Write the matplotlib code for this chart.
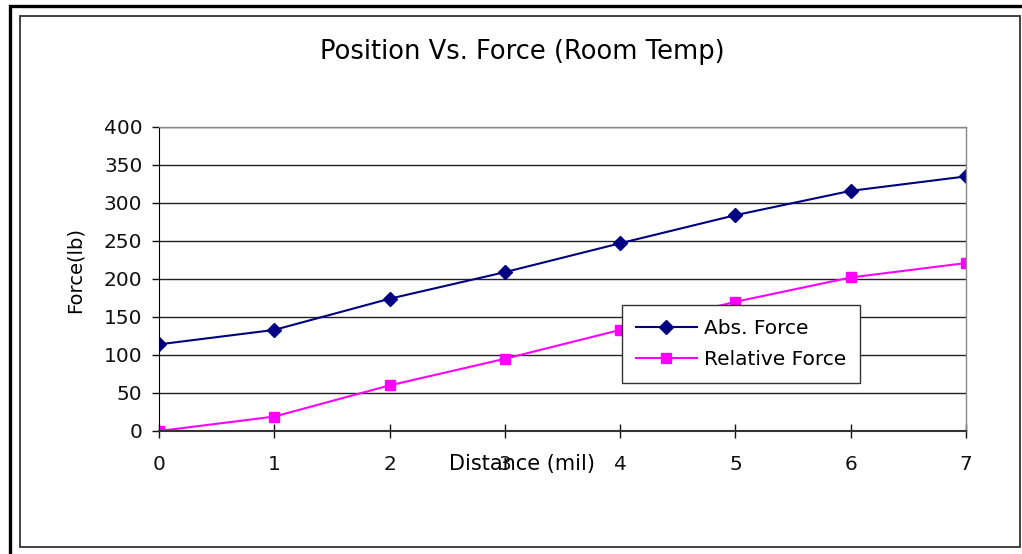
import matplotlib
matplotlib.use('Agg')
import matplotlib.pyplot as plt
from matplotlib.patches import Rectangle

# Данные: расстояние и сила
distance = [0, 1, 2, 3, 4, 5, 6, 7]
abs_force = [114, 133, 174, 209, 247, 284, 316, 335]
relative_force = [0, 19, 60, 95, 133, 170, 202, 221]
y_ticks = [0, 50, 100, 150, 200, 250, 300, 350, 400]

plt.rcParams['font.family'] = ['DejaVu Sans']

W, H = 1022, 554
fig = plt.figure(figsize=(W / 100, H / 100), dpi=100)

# Рамки вокруг всей диаграммы (в пикселях)
def px_rect(x0, y0, x1, y1, lw, color):
    r = Rectangle((x0 / W, 1 - y1 / H), (x1 - x0) / W, (y1 - y0) / H,
                  transform=fig.transFigure, fill=False, lw=lw, ec=color)
    fig.patches.append(r)

px_rect(9.5, 6, 1040, 580, 2.4, 'black')
px_rect(20, 15.5, 1019.5, 547, 1.3, '#333333')

ax = fig.add_axes([159 / W, 1 - 431 / H, (966 - 159) / W, (431 - 127) / H])

ax.plot(distance, abs_force, color='#000080', lw=1.5, marker='D',
        markersize=7.5, label='Abs. Force')
ax.plot(distance, relative_force, color='#FF00FF', lw=1.5, marker='s',
        markersize=7.5, label='Relative Force')

ax.set_xlim(0, 7)
ax.set_ylim(0, 400)
ax.set_xticks(distance)
ax.set_yticks(y_ticks)
ax.yaxis.grid(True, color='#222222', lw=1)
ax.set_axisbelow(True)

for s in ['top', 'right']:
    ax.spines[s].set_color('#888888')
    ax.spines[s].set_linewidth(1)
ax.spines['left'].set_color('black')
ax.spines['bottom'].set_color('#333333')
ax.spines['bottom'].set_linewidth(1.5)

ax.tick_params(axis='y', direction='out', length=5, width=1, pad=7,
               labelsize=14.5, colors='#111111')
ax.tick_params(axis='x', direction='inout', length=10, width=1, pad=12,
               labelsize=14.5, colors='#111111')

ax.set_xlabel('Distance (mil)', fontsize=15)
ax.xaxis.label.set_va('center')
ax.xaxis.set_label_coords(0.45, -0.108)
ax.set_ylabel('Force(lb)', fontsize=14)
ax.yaxis.set_label_coords(-0.092, 0.53)

fig.text(522 / W, 1 - 52 / H, 'Position Vs. Force (Room Temp)',
         ha='center', va='center', fontsize=18.5)

leg = ax.legend(loc='upper left', bbox_to_anchor=((622 - 159) / 807, 1 - (305 - 127) / 304),
                fontsize=14.5, frameon=True, fancybox=False, framealpha=1,
                edgecolor='#333333', borderpad=0.7, labelspacing=0.6,
                handlelength=3.0, handletextpad=0.35, borderaxespad=0)
leg.get_frame().set_linewidth(1)

fig.savefig('out.png', dpi=100)
